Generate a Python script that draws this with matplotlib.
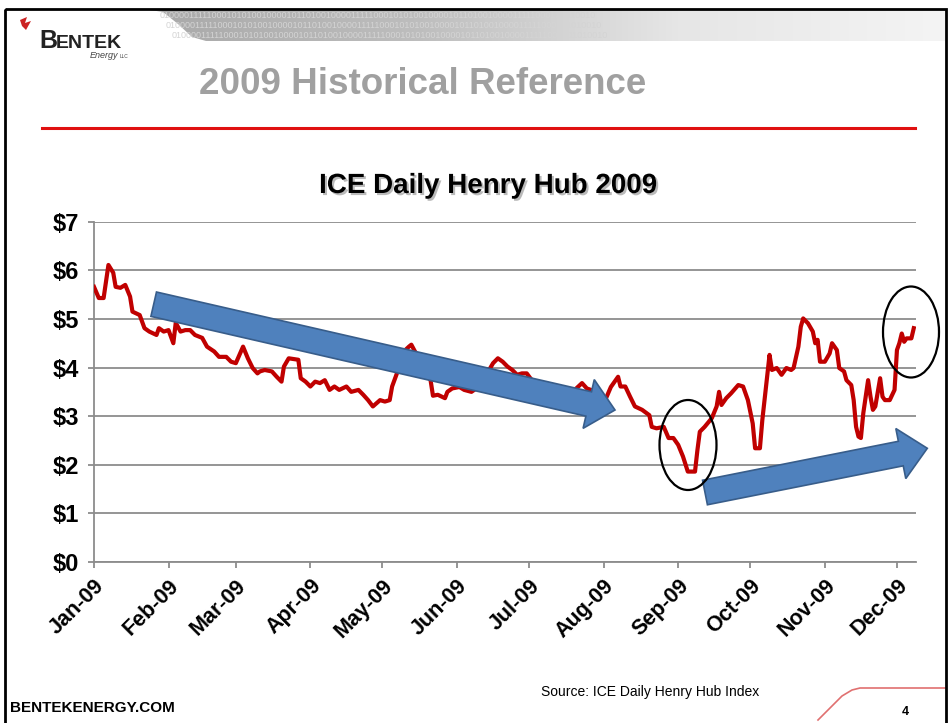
import matplotlib
matplotlib.use("Agg")
import matplotlib.pyplot as plt
from matplotlib.patches import FancyArrow, Ellipse, Polygon, Rectangle
from matplotlib import patheffects
import numpy as np
import pandas as pd

plt.rcParams['font.family'] = ['Liberation Sans', 'DejaVu Sans']

# ICE daily Henry Hub prices ($/MMBtu)
dates = ['2009-01-01', '2009-01-03', '2009-01-05', '2009-01-07', '2009-01-09', '2009-01-10',
         '2009-01-12', '2009-01-14', '2009-01-16', '2009-01-17', '2009-01-20', '2009-01-22',
         '2009-01-24', '2009-01-27', '2009-01-28', '2009-01-30', '2009-02-01', '2009-02-03',
         '2009-02-04', '2009-02-06', '2009-02-08', '2009-02-10', '2009-02-12', '2009-02-15',
         '2009-02-17', '2009-02-20', '2009-02-22', '2009-02-25', '2009-02-27', '2009-03-01',
         '2009-03-04', '2009-03-06', '2009-03-08', '2009-03-10', '2009-03-11', '2009-03-13',
         '2009-03-16', '2009-03-18', '2009-03-20', '2009-03-21', '2009-03-23', '2009-03-27',
         '2009-03-28', '2009-03-30', '2009-04-01', '2009-04-03', '2009-04-05', '2009-04-07',
         '2009-04-09', '2009-04-11', '2009-04-13', '2009-04-16', '2009-04-18', '2009-04-21',
         '2009-04-23', '2009-04-25', '2009-04-27', '2009-04-30', '2009-05-02', '2009-05-04',
         '2009-05-05', '2009-05-07', '2009-05-09', '2009-05-12', '2009-05-13', '2009-05-17',
         '2009-05-21', '2009-05-22', '2009-05-24', '2009-05-27', '2009-05-28', '2009-05-30',
         '2009-06-02', '2009-06-04', '2009-06-07', '2009-06-09', '2009-06-12', '2009-06-16',
         '2009-06-18', '2009-06-20', '2009-06-22', '2009-06-24', '2009-06-26', '2009-06-28',
         '2009-06-30', '2009-07-05', '2009-07-11', '2009-07-18', '2009-07-23', '2009-07-25',
         '2009-07-29', '2009-08-02', '2009-08-04', '2009-08-07', '2009-08-08', '2009-08-10',
         '2009-08-12', '2009-08-14', '2009-08-17', '2009-08-20', '2009-08-21', '2009-08-23',
         '2009-08-26', '2009-08-28', '2009-08-30', '2009-09-01', '2009-09-03', '2009-09-05',
         '2009-09-08', '2009-09-09', '2009-09-10', '2009-09-12', '2009-09-15', '2009-09-17',
         '2009-09-18', '2009-09-19', '2009-09-21', '2009-09-23', '2009-09-26', '2009-09-28',
         '2009-09-30', '2009-10-02', '2009-10-03', '2009-10-05', '2009-10-06', '2009-10-08',
         '2009-10-09', '2009-10-10', '2009-10-12', '2009-10-14', '2009-10-16', '2009-10-18',
         '2009-10-19', '2009-10-21', '2009-10-22', '2009-10-23', '2009-10-25', '2009-10-27',
         '2009-10-28', '2009-10-29', '2009-10-30', '2009-11-01', '2009-11-03', '2009-11-04',
         '2009-11-06', '2009-11-07', '2009-11-09', '2009-11-10', '2009-11-12', '2009-11-13',
         '2009-11-14', '2009-11-15', '2009-11-16', '2009-11-17', '2009-11-19', '2009-11-20',
         '2009-11-21', '2009-11-22', '2009-11-24', '2009-11-25', '2009-11-26', '2009-11-28',
         '2009-11-30', '2009-12-01', '2009-12-02', '2009-12-03', '2009-12-04', '2009-12-05',
         '2009-12-07', '2009-12-08']
prices = [5.66, 5.43, 5.43, 6.11, 5.95, 5.66,
          5.64, 5.70, 5.46, 5.15, 5.08, 4.81,
          4.74, 4.67, 4.81, 4.74, 4.77, 4.50,
          4.92, 4.74, 4.77, 4.77, 4.67, 4.61,
          4.43, 4.33, 4.22, 4.22, 4.12, 4.09,
          4.43, 4.19, 3.99, 3.88, 3.92, 3.95,
          3.92, 3.81, 3.71, 4.02, 4.19, 4.16,
          3.78, 3.71, 3.61, 3.71, 3.68, 3.74,
          3.54, 3.61, 3.54, 3.61, 3.50, 3.54,
          3.44, 3.33, 3.20, 3.33, 3.30, 3.33,
          3.61, 3.88, 4.29, 4.43, 4.47, 4.10,
          3.74, 3.42, 3.44, 3.37, 3.50, 3.57,
          3.60, 3.54, 3.50, 3.57, 3.75, 4.09,
          4.19, 4.12, 4.02, 3.95, 3.85, 3.88,
          3.88, 3.55, 3.40, 3.45, 3.68, 3.57,
          3.50, 3.37, 3.60, 3.81, 3.61, 3.61,
          3.40, 3.20, 3.13, 3.02, 2.78, 2.75,
          2.78, 2.55, 2.55, 2.41, 2.17, 1.86,
          1.86, 2.30, 2.68, 2.78, 2.96, 3.20,
          3.50, 3.23, 3.37, 3.47, 3.64, 3.61,
          3.33, 2.85, 2.34, 2.34, 2.92, 3.81,
          4.26, 3.95, 3.99, 3.85, 3.99, 3.95,
          3.99, 4.43, 4.84, 5.01, 4.91, 4.74,
          4.50, 4.57, 4.12, 4.12, 4.29, 4.50,
          4.36, 3.99, 3.92, 3.74, 3.64, 3.33,
          2.78, 2.58, 2.55, 3.06, 3.74, 3.40,
          3.13, 3.20, 3.78, 3.40, 3.33, 3.33,
          3.54, 4.36, 4.50, 4.70, 4.53, 4.60,
          4.60, 4.81]

month_ticks = ['2009-01-01', '2009-02-01', '2009-03-01', '2009-04-01', '2009-05-01', '2009-06-01',
               '2009-07-01', '2009-08-01', '2009-09-01', '2009-10-01', '2009-11-01', '2009-12-01']
month_labels = ['Jan-09', 'Feb-09', 'Mar-09', 'Apr-09', 'May-09', 'Jun-09',
                'Jul-09', 'Aug-09', 'Sep-09', 'Oct-09', 'Nov-09', 'Dec-09']
price_ticks = [0, 1, 2, 3, 4, 5, 6, 7]
price_labels = ['$0', '$1', '$2', '$3', '$4', '$5', '$6', '$7']

W, H = 951, 723
fig = plt.figure(figsize=(W / 100, H / 100), dpi=100)

# the chart itself
ax = fig.add_axes([94 / W, 1 - 562 / H, (915.7 - 94) / W, (562 - 221.7) / H])
ax.plot(pd.to_datetime(dates), prices, color='#C00000', lw=3, solid_joinstyle='round', zorder=3)
ax.set_xlim(pd.Timestamp('2009-01-01'), pd.Timestamp('2009-01-01') + pd.Timedelta(days=341.8))
ax.set_ylim(0, 7)
ax.set_yticks(price_ticks)
ax.set_yticklabels(price_labels)
ax.set_xticks(pd.to_datetime(month_ticks))
ax.set_xticklabels(month_labels, rotation=45, ha='right', rotation_mode='anchor')
ax.yaxis.grid(True, color='#8c8c8c', lw=1.3)
ax.set_axisbelow(True)
for s in ['top', 'right']:
    ax.spines[s].set_visible(False)
for s in ['left', 'bottom']:
    ax.spines[s].set_color('#8c8c8c')
    ax.spines[s].set_linewidth(1.3)
ax.tick_params(axis='y', length=4.5, color='#8c8c8c', width=1.3, pad=6, labelsize=17)
ax.tick_params(axis='x', length=4.5, color='#8c8c8c', width=1.3, pad=5, labelsize=15.5)
for lbl in ax.get_xticklabels() + ax.get_yticklabels():
    lbl.set_fontweight('bold')
ax.patch.set_alpha(0)

# overlay in pixel coordinates for the slide decorations
ov = fig.add_axes([0, 0, 1, 1], zorder=5)
ov.set_xlim(0, W)
ov.set_ylim(H, 0)
ov.axis('off')
ov.patch.set_alpha(0)

# grey binary banner at the top, fading to the right
band = Polygon([(150, 10), (163, 12), (178, 24), (192, 37), (206, 41), (945, 41), (945, 10)],
               closed=True, fc='none', ec='none')
ov.add_patch(band)
grad = np.linspace(0, 1, 256).reshape(1, -1)
img = ov.imshow(grad, extent=[150, 945, 41, 10], cmap=plt.matplotlib.colors.LinearSegmentedColormap.from_list(
    'band', ['#a9a9a9', '#bdbdbd', '#e6e6e6', '#f4f4f4']), aspect='auto', zorder=1)
img.set_clip_path(band)
bits = '01000011111000101010010000101101001000011111000101010010000101101001000011111000101010010'
for i, yy in enumerate([16, 26, 36]):
    t = ov.text(160 + i * 6, yy, bits, fontsize=6.5, color='#d4d4d4', va='center', ha='left', zorder=2)
    t.set_clip_path(band)
ov.set_xlim(0, W)
ov.set_ylim(H, 0)

# logo
ov.add_patch(Polygon([(20, 20), (27, 17), (25, 23), (31, 21), (26, 30), (22, 26)],
                     closed=True, fc='#cc2222', ec='none'))
ov.text(39, 48, 'B', fontsize=18, weight='bold', color='#222222', va='baseline')
ov.text(56, 48, 'ENTEK', fontsize=14, weight='bold', color='#222222', va='baseline')
ov.text(90, 58, 'Energy', fontsize=6.5, style='italic', color='#444444', va='baseline')
ov.text(120, 58, 'LLC', fontsize=3.5, color='#444444', va='baseline')

# slide title and red rule
ov.text(423, 84, '2009 Historical Reference', fontsize=26.5, weight='bold',
        color='#a0a0a0', ha='center', va='center')
ov.plot([42, 915], [128, 128], color='#e01010', lw=2.2)

# chart title
ov.text(488, 186, 'ICE Daily Henry Hub 2009', fontsize=20, weight='bold', color='black',
        ha='center', va='center',
        path_effects=[patheffects.withSimplePatchShadow(offset=(1.5, -1.5), shadow_rgbFace='#777777', alpha=0.5)])

# trend arrows
ov.add_patch(FancyArrow(153.7, 304.2, 461.3, 105.8, width=25, head_width=50, head_length=27,
                        length_includes_head=True, fc='#4F81BD', ec='#385D8A', lw=1.2))
ov.add_patch(FancyArrow(705, 492.5, 222.3, -44.2, width=25, head_width=51, head_length=27,
                        length_includes_head=True, fc='#4F81BD', ec='#385D8A', lw=1.2))

# circles around the low and the latest prices
ov.add_patch(Ellipse((688, 445), 57, 90, fill=False, ec='black', lw=1.6))
ov.add_patch(Ellipse((911, 332), 56, 91, fill=False, ec='black', lw=1.6))

# footer
ov.text(10, 708, 'BENTEKENERGY.COM', fontsize=11, weight='bold', color='black', va='center')
ov.text(650, 692, 'Source: ICE Daily Henry Hub Index', fontsize=10, color='black', ha='center', va='center')
ov.text(905, 712, '4', fontsize=9, weight='bold', color='black', ha='center', va='center')
ov.plot([818, 842, 852, 860, 945], [720, 696, 690, 688, 688], color='#e07070', lw=1.2)

# slide frame on top of everything
ov.add_patch(Rectangle((5, 9), 941, 730, fill=False, ec='black', lw=2, zorder=10))

fig.savefig('out.png', dpi=100)
